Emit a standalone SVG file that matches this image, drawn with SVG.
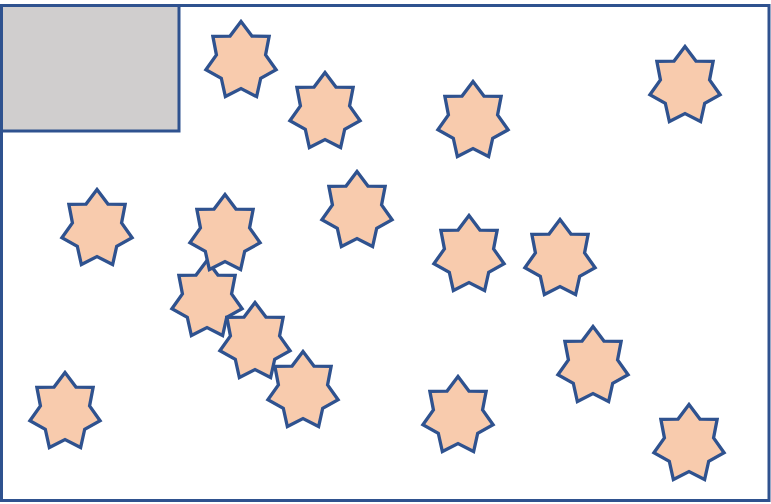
<svg xmlns="http://www.w3.org/2000/svg" xmlns:xlink="http://www.w3.org/1999/xlink" width="771" height="504" viewBox="0 0 771 504">
  <style>
    .frame { fill: #ffffff; stroke: #2F528F; stroke-width: 3; }
    .box { fill: #D0CECE; stroke: #2F528F; stroke-width: 3; }
    .star { fill: #F8CBAD; stroke: #2F528F; stroke-width: 3.3; stroke-linejoin: miter; }
  </style>
  <defs>
    <polygon id="star7" class="star" points="0,-39.5 10.94,-24.91 28.14,-24.63 24.57,-6.15 35.1,8.79 19.7,17.24 15.62,35.59 0,27.65 -15.62,35.59 -19.7,17.24 -35.1,8.79 -24.57,-6.15 -28.14,-24.63 -10.94,-24.91"/>
  </defs>
  <rect width="771" height="504" fill="#ffffff"/>
  <g id="frame">
    <rect class="frame" x="1.5" y="5.5" width="767.5" height="495"/>
  </g>
  <g id="grey-box">
    <rect class="box" x="1.5" y="5.5" width="177.5" height="125.5"/>
  </g>
  <g id="stars">
    <g id="star-1"><use href="#star7" xlink:href="#star7" x="241" y="61"/></g>
    <g id="star-2"><use href="#star7" xlink:href="#star7" x="325" y="112"/></g>
    <g id="star-3"><use href="#star7" xlink:href="#star7" x="473" y="121"/></g>
    <g id="star-4"><use href="#star7" xlink:href="#star7" x="685" y="86"/></g>
    <g id="star-5"><use href="#star7" xlink:href="#star7" x="97" y="229"/></g>
    <g id="star-7"><use href="#star7" xlink:href="#star7" x="357" y="211"/></g>
    <g id="star-8"><use href="#star7" xlink:href="#star7" x="469" y="255"/></g>
    <g id="star-9"><use href="#star7" xlink:href="#star7" x="560" y="259"/></g>
    <g id="star-10"><use href="#star7" xlink:href="#star7" x="207" y="300"/></g>
    <g id="star-6"><use href="#star7" xlink:href="#star7" x="225" y="234"/></g>
    <g id="star-11"><use href="#star7" xlink:href="#star7" x="255" y="342"/></g>
    <g id="star-12"><use href="#star7" xlink:href="#star7" x="303" y="391"/></g>
    <g id="star-13"><use href="#star7" xlink:href="#star7" x="593" y="366"/></g>
    <g id="star-14"><use href="#star7" xlink:href="#star7" x="65" y="412"/></g>
    <g id="star-15"><use href="#star7" xlink:href="#star7" x="458" y="416"/></g>
    <g id="star-16"><use href="#star7" xlink:href="#star7" x="689" y="444"/></g>
  </g>
  <g id="connectors"/>
</svg>
